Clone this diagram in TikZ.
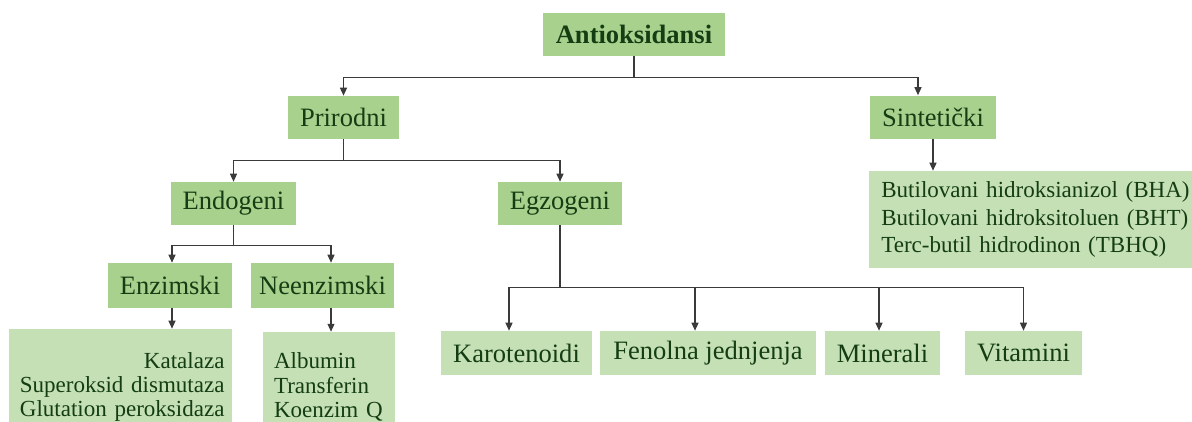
\documentclass[tikz,border=0pt]{standalone}
\usepackage{fontspec}
\setmainfont{Liberation Serif}
\usepackage{tikz}
\usetikzlibrary{arrows.meta}
\definecolor{AoxDark}{HTML}{A9D18E}
\definecolor{AoxLight}{HTML}{C5E0B4}
\definecolor{AoxText}{HTML}{143D14}
\definecolor{AoxLine}{HTML}{3A3A3A}

\begin{document}
\begin{tikzpicture}[>={Triangle[width=4pt,length=4.5pt]},
  head/.style={fill=AoxDark, text=AoxText, minimum height=0.86cm, inner sep=0pt, font=\fontsize{15.1}{18}\selectfont},
  leaf/.style={fill=AoxLight, text=AoxText, minimum height=0.88cm, inner sep=0pt, font=\fontsize{15.1}{18}\selectfont},
  list/.style={fill=AoxLight, text=AoxText, inner xsep=0.15cm, inner ysep=0pt, font=\fontsize{13.1}{13.9}\selectfont},
  arr/.style={->, line width=0.6pt, AoxLine},
  bar/.style={line width=0.6pt, AoxLine}]
\useasboundingbox (0,0) rectangle (23.84,-8.42);
\node[head, minimum width=3.64cm, font=\fontsize{15.1}{18}\selectfont\bfseries] (anti) at (12.68,-0.69) {Antioksidansi};
\node[head, minimum width=2.22cm] (prir) at (6.87,-2.35) {Prirodni};
\node[head, minimum width=2.52cm] (sint) at (18.66,-2.34) {Sintetički};
\node[list, anchor=west, text width=7cm, minimum height=1.94cm, align=left, font=\fontsize{13.1}{15.9}\selectfont, inner xsep=0.24cm] (sintlist) at (17.38,-4.39) {Butilovani hidroksianizol (BHA)\\Butilovani hidroksitoluen (BHT)\\Terc-butil hidrodinon (TBHQ)};
\node[head, minimum width=2.5cm] (endo) at (4.67,-4.07) {Endogeni};
\node[head, minimum width=2.48cm] (egzo) at (11.2,-4.07) {Egzogeni};
\node[head, minimum width=2.48cm, minimum height=0.9cm] (enzi) at (3.4,-5.71) {Enzimski};
\node[head, minimum width=2.86cm, minimum height=0.9cm] (neen) at (6.45,-5.71) {Neenzimski};
\node[list, text width=4.16cm, minimum height=2.32cm, align=right] (enzilist) at (2.41,-7.74) {Katalaza\\Superoksid dismutaza\\Glutation peroksidaza};
\node[list, text width=2.2cm, inner xsep=0.22cm, minimum height=2.2cm, align=left] (neenlist) at (6.58,-7.74) {Albumin\\Transferin\\Koenzim Q};
\node[leaf, minimum width=3.02cm] (karo) at (10.33,-7.06) {Karotenoidi};
\node[leaf, minimum width=4.32cm] (feno) at (14.16,-7.06) {Fenolna jednjenja};
\node[leaf, minimum width=2.3cm] (mine) at (17.65,-7.06) {Minerali};
\node[leaf, minimum width=2.34cm] (vita) at (20.47,-7.06) {Vitamini};
\draw[arr] (anti.south) -- ++(0,-0.42) -| (prir.north);
\draw[arr] (anti.south) -- ++(0,-0.42) -| ([xshift=-0.3cm]sint.north);
\draw[arr] (sint.south) -- (sintlist.north -| sint.south);
\draw[arr] (prir.south) -- ++(0,-0.42) -| (endo.north);
\draw[arr] (prir.south) -- ++(0,-0.42) -| (egzo.north);
\draw[arr] (endo.south) -- ++(0,-0.4) -| ([xshift=0.04cm]enzi.north);
\draw[arr] (endo.south) -- ++(0,-0.4) -| ([xshift=0.17cm]neen.north);
\draw[arr] ([xshift=0.04cm]enzi.south) -- ([xshift=0.04cm]enzi.south |- enzilist.north);
\draw[arr] ([xshift=0.17cm]neen.south) -- ([xshift=0.17cm]neen.south |- neenlist.north);
\draw[bar] (egzo.south) -- ++(0,-1.24) coordinate (split);
\draw[arr] (split) -| ([xshift=-0.15cm]karo.north);
\draw[arr] (split) -| ([xshift=-0.26cm]feno.north);
\draw[arr] (split) -| ([xshift=-0.07cm]mine.north);
\draw[arr] (split) -| (vita.north);
\end{tikzpicture}
\end{document}
